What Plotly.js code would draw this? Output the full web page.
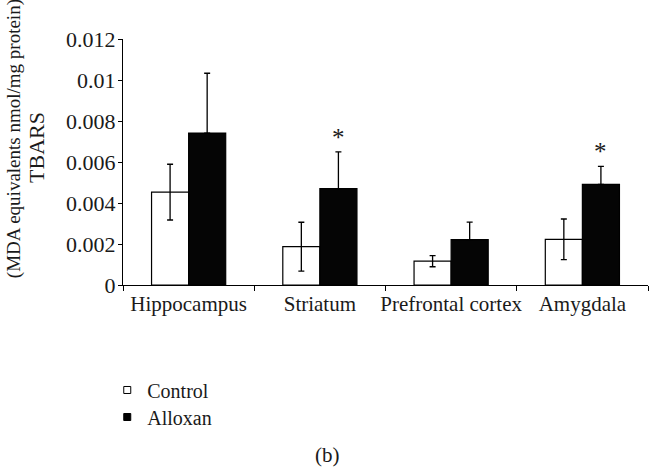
<!DOCTYPE html>
<html>
<head>
<meta charset="utf-8">
<script src="https://cdn.plot.ly/plotly-3.0.1.min.js"></script>
<style>html,body{margin:0;padding:0;background:#fff;}#chart{width:654px;height:467px;}</style>
</head>
<body>
<div id="chart"></div>
<script>
const categories = ["Hippocampus", "Striatum", "Prefrontal cortex", "Amygdala"];
const controlValues = [0.00453, 0.00187, 0.00116, 0.00223];
const controlErrors = [0.00136, 0.00119, 0.00027, 0.00099];
const alloxanValues = [0.00741, 0.00470, 0.00221, 0.00491];
const alloxanErrors = [0.00292, 0.00179, 0.00086, 0.00088];
const alloxanErrorsBelow = [0, 0, 0, 0];
const significant = [false, true, false, true];
const yTickValues = [0, 0.002, 0.004, 0.006, 0.008, 0.01, 0.012];
const yTickLabels = ["0", "0.002", "0.004", "0.006", "0.008", "0.01", "0.012"];

const FONT = "Liberation Serif, Times New Roman, serif";
const TXT = "#1a1a1a";
const FS = 21;
const bargap = 0.435;

const traces = [
  {
    type: "bar", name: "Control", x: categories, y: controlValues,
    marker: {color: "#ffffff", line: {color: "#000000", width: 1.2}},
    error_y: {type: "data", array: controlErrors, visible: true, color: "#000000", thickness: 1.3, width: 3},
    showlegend: false, hoverinfo: "skip"
  },
  {
    type: "bar", name: "Alloxan", x: categories, y: alloxanValues,
    marker: {color: "#050505", line: {color: "#000000", width: 1.2}},
    error_y: {type: "data", symmetric: false, array: alloxanErrors, arrayminus: alloxanErrorsBelow,
              visible: true, color: "#000000", thickness: 1.3, width: 3},
    showlegend: false, hoverinfo: "skip"
  },
  {
    type: "scatter", mode: "markers", name: "Control", x: [null], y: [null], legend: "legend",
    marker: {symbol: "square", size: 7, color: "#ffffff", line: {color: "#000000", width: 1}}
  },
  {
    type: "scatter", mode: "markers", name: "Alloxan", x: [null], y: [null], legend: "legend2",
    marker: {symbol: "square", size: 7, color: "#000000", line: {color: "#000000", width: 1}}
  }
];

const annotations = [];
const offset = (1 - bargap) / 4;
categories.forEach((c, i) => {
  if (significant[i]) {
    annotations.push({
      xref: "x", yref: "y", x: i + offset, y: alloxanValues[i] + alloxanErrors[i],
      text: "*", showarrow: false, yanchor: "bottom", yshift: -1,
      font: {family: FONT, size: 25, color: TXT}
    });
  }
});
annotations.push({
  xref: "paper", yref: "paper", x: -0.1638, y: 0.557, xanchor: "center", yanchor: "middle",
  text: "TBARS", textangle: -90, showarrow: false,
  font: {family: FONT, size: 22, color: TXT}
});
annotations.push({
  xref: "paper", yref: "paper", x: -0.2075, y: 0.593, xanchor: "center", yanchor: "middle",
  text: "(MDA equivalents nmol/mg protein)", textangle: -90, showarrow: false,
  font: {family: FONT, size: 19, color: TXT}
});
annotations.push({
  xref: "paper", yref: "paper", x: 0.389, y: -0.69, xanchor: "center", yanchor: "middle",
  text: "(b)", showarrow: false, font: {family: FONT, size: FS, color: TXT}
});

const legendBase = {
  xanchor: "left", yanchor: "middle",
  font: {family: FONT, size: 20, color: TXT},
  bgcolor: "rgba(0,0,0,0)", itemwidth: 30
};

const layout = {
  width: 654, height: 467,
  margin: {l: 123, r: 6, t: 39, b: 182},
  paper_bgcolor: "#ffffff", plot_bgcolor: "#ffffff",
  font: {family: FONT, size: FS, color: TXT},
  barmode: "group", bargap: bargap, bargroupgap: 0,
  showlegend: true,
  legend: Object.assign({}, legendBase, {x: -0.03, y: -0.4268}),
  legend2: Object.assign({}, legendBase, {x: -0.03, y: -0.5366}),
  xaxis: {
    type: "category", range: [-0.5, 3.5],
    showline: true, linecolor: "#000000", linewidth: 1.2,
    ticks: "outside", tickson: "boundaries", ticklen: 5, tickcolor: "#000000", tickwidth: 1,
    tickangle: 0, automargin: false,
    showgrid: false, zeroline: false, fixedrange: true,
    tickfont: {family: FONT, size: FS, color: TXT}
  },
  yaxis: {
    range: [0, 0.012],
    tickvals: yTickValues, ticktext: yTickLabels,
    showline: true, linecolor: "#000000", linewidth: 1.2,
    ticks: "outside", ticklen: 4, tickcolor: "#000000", tickwidth: 1,
    ticklabelstandoff: -2,
    automargin: false,
    showgrid: false, zeroline: false, fixedrange: true,
    tickfont: {family: FONT, size: 22, color: TXT}
  },
  annotations: annotations
};

Plotly.newPlot("chart", traces, layout, {displayModeBar: false, staticPlot: true});
</script>
</body>
</html>
